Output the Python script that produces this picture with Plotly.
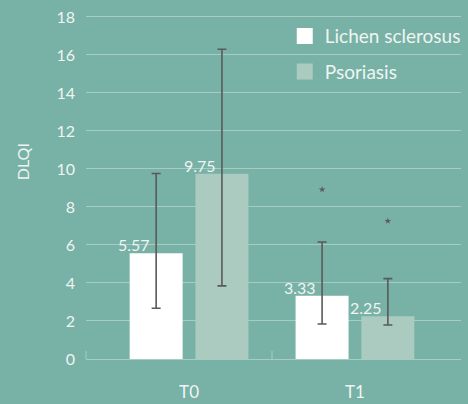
import plotly.graph_objects as go

categories = ["T0", "T1"]
series_names = ["Lichen sclerosus", "Psoriasis"]
lichen_values = [5.57, 3.33]
psoriasis_values = [9.75, 2.25]
lichen_err_plus = [4.19, 2.83]
lichen_err_minus = [2.90, 1.49]
psoriasis_err_plus = [6.55, 1.98]
psoriasis_err_minus = [5.90, 0.46]
lichen_outliers = [None, 8.92]
psoriasis_outliers = [None, 7.26]
y_ticks = [0, 2, 4, 6, 8, 10, 12, 14, 16, 18]

BG = "#78b1a5"
LS_COLOR = "#ffffff"
PS_COLOR = "#abcbc1"
GRID = "#a6cdc3"
TEXT = "#eef5f3"
ERR = "#5a5a5a"
FONT = "Lato, 'Open Sans', sans-serif"

fig = go.Figure()

err_style = dict(type="data", symmetric=False, color=ERR, thickness=1.6, width=4.5)

fig.add_trace(go.Bar(
    x=categories, y=lichen_values, name=series_names[0], marker_color=LS_COLOR,
    marker_line_width=0, showlegend=False,
    error_y=dict(array=lichen_err_plus, arrayminus=lichen_err_minus, **err_style),
))
fig.add_trace(go.Bar(
    x=categories, y=psoriasis_values, name=series_names[1], marker_color=PS_COLOR,
    marker_line_width=0, showlegend=False,
    error_y=dict(array=psoriasis_err_plus, arrayminus=psoriasis_err_minus, **err_style),
))

# legend entries
for name, col in zip(series_names, [LS_COLOR, PS_COLOR]):
    fig.add_trace(go.Scatter(
        x=[None], y=[None], mode="markers", name=name, legendgroup=name,
        marker=dict(symbol="square", size=20, color=col),
    ))

# outlier markers, placed over their bars
offset = 0.198
for i, v in enumerate(lichen_outliers):
    if v is not None:
        fig.add_trace(go.Scatter(x=[i - offset], y=[v], xaxis="x2", mode="markers",
                                 marker=dict(symbol="star", size=5, color=ERR),
                                 showlegend=False, hoverinfo="skip"))
for i, v in enumerate(psoriasis_outliers):
    if v is not None:
        fig.add_trace(go.Scatter(x=[i + offset], y=[v], xaxis="x2", mode="markers",
                                 marker=dict(symbol="star", size=5, color=ERR),
                                 showlegend=False, hoverinfo="skip"))

x_range = [-0.621, 1.639]

annotations = []
for i, v in enumerate(lichen_values):
    annotations.append(dict(x=i - offset, y=v, xref="x2", yref="y", text=f"{v:.2f}",
                            showarrow=False, xanchor="center", yanchor="bottom",
                            xshift=-22, yshift=-3, font=dict(size=16, color=TEXT, family=FONT)))
for i, v in enumerate(psoriasis_values):
    annotations.append(dict(x=i + offset, y=v, xref="x2", yref="y", text=f"{v:.2f}",
                            showarrow=False, xanchor="center", yanchor="bottom",
                            xshift=-22, yshift=-3, font=dict(size=16, color=TEXT, family=FONT)))
annotations.append(dict(x=-0.17, y=0.5, xref="paper", yref="paper", yshift=25, text="DLQI",
                        textangle=-90, showarrow=False, xanchor="center", yanchor="middle",
                        font=dict(size=16, color=TEXT, family=FONT)))

shapes = [
    dict(type="line", xref="x2", yref="y", x0=0.5, x1=0.5, y0=0, y1=0.42,
         line=dict(color=GRID, width=1)),
    dict(type="line", xref="paper", yref="y", x0=0, x1=0, y0=0, y1=0.42,
         line=dict(color=GRID, width=1)),
]

fig.update_layout(
    width=468, height=404,
    margin=dict(l=86, r=2, t=15, b=43),
    paper_bgcolor=BG, plot_bgcolor=BG,
    font=dict(family=FONT, color=TEXT, size=16),
    barmode="group", bargap=0.207, bargroupgap=0.195,
    legend=dict(x=0.53, y=0.994, xanchor="left", yanchor="top",
                bgcolor="rgba(0,0,0,0)", font=dict(size=19, color=TEXT, family=FONT),
                tracegroupgap=8, traceorder="grouped", itemsizing="trace"),
    xaxis=dict(type="category", range=x_range, showgrid=False, zeroline=False,
               showline=False, ticks="", tickfont=dict(size=17, color=TEXT),
               ticklabelstandoff=21),
    xaxis2=dict(overlaying="x", range=x_range, visible=False, showgrid=False, zeroline=False),
    yaxis=dict(range=[0, 18.1], tickvals=y_ticks, showgrid=True, gridcolor=GRID,
               gridwidth=1.2, zeroline=True, zerolinecolor=GRID, zerolinewidth=1.2,
               showline=False, ticks="", tickfont=dict(size=16, color=TEXT),
               ticklabelstandoff=10),
    annotations=annotations,
    shapes=shapes,
    showlegend=True,
)

page_fix = (
    "document.body.style.margin='0';"
    "document.body.style.padding='0';"
    "document.body.style.overflow='hidden';"
    f"document.body.style.background='{BG}';"
)

fig.write_html("out.html", post_script=page_fix, config={"displayModeBar": False})
